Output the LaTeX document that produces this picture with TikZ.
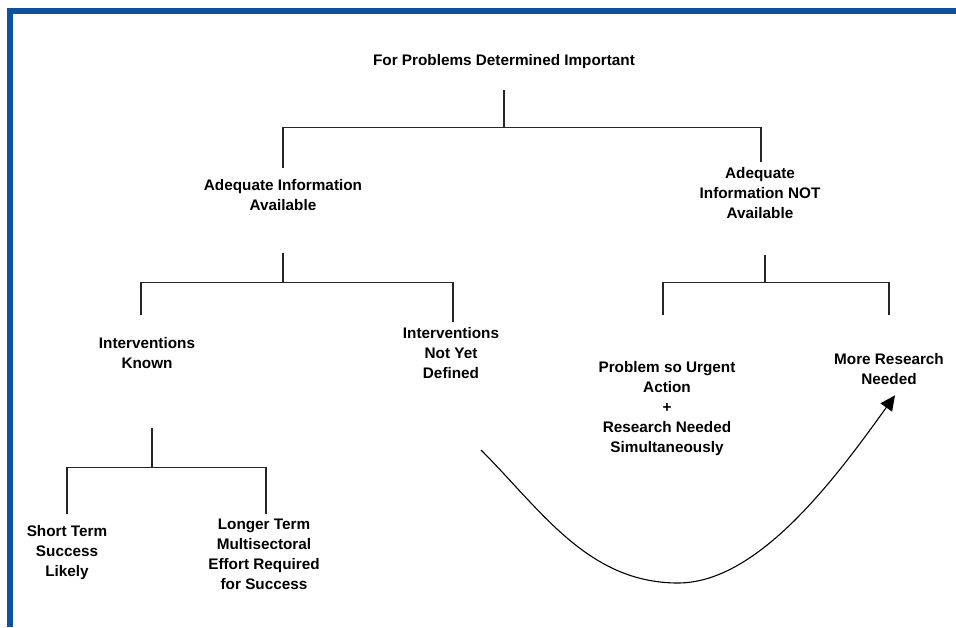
\documentclass[tikz,border=0pt]{standalone}
\usepackage{fontspec}
\setmainfont{Liberation Sans}
\usetikzlibrary{arrows.meta}
\definecolor{frameblue}{RGB}{12,82,160}

\begin{document}
\begin{tikzpicture}[x=1pt,y=1pt,
  lbl/.style={align=center,inner sep=0pt,font=\bfseries\fontsize{15.3}{20}\selectfont},
  conn/.style={draw=black!85,line width=1.1pt},
  arc/.style={draw=black,line width=1.1pt,-{Triangle[length=15pt,width=14pt]}}]
\useasboundingbox (0,0) rectangle (956,627);
% blue frame, top and left only
\fill [frameblue] (7,613) rectangle (956,619);
\fill [frameblue] (7,0) rectangle (13,619);

\node [lbl] (top) at (504,565.4) {For Problems Determined Important};
\node [lbl] (adeq) at (283,432) {Adequate Information\\Available};
\node [lbl] (notadeq) at (760,433.5) {Adequate\\Information NOT\\Available};
\node [lbl] (known) at (147,274) {Interventions\\Known};
\node [lbl] (undef) at (451,274) {Interventions\\Not Yet\\Defined};
\node [lbl] (urgent) at (667,218.4) {Problem so Urgent\\Action\\+\\Research Needed\\Simultaneously};
\node [lbl] (research) at (889,258) {More Research\\Needed};
\node [lbl] (short) at (67,74.4) {Short Term\\Success\\Likely};
\node [lbl] (longer) at (264,73) {Longer Term\\Multisectoral\\Effort Required\\for Success};

% brackets
\draw [conn] ([yshift=-21pt]top.south) -- ++(0,-38) -| ([xshift=1pt,yshift=5.5pt]notadeq.north);
\draw [conn] ([yshift=-59pt]top.south) -| ([yshift=11.5pt]adeq.north);
\draw [conn] ([yshift=-42.5pt]adeq.south) -- ++(0,-29) -| ([xshift=2pt,yshift=5.5pt]undef.north);
\draw [conn] ([yshift=-71.5pt]adeq.south) -| ([xshift=-6pt,yshift=22.5pt]known.north);
\draw [conn] ([xshift=5pt,yshift=-35.5pt]notadeq.south) -- ++(0,-28) -| ([yshift=38.5pt]research.north);
\draw [conn] ([xshift=5pt,yshift=-63.5pt]notadeq.south) -| ([xshift=-4pt,yshift=46.5pt]urgent.north);
\draw [conn] ([xshift=5pt,yshift=-59.5pt]known.south) -- ++(0,-39) -| ([xshift=2pt,yshift=4.5pt]longer.north);
\draw [conn] ([xshift=5pt,yshift=-98.5pt]known.south) -| ([yshift=11.5pt]short.north);

% curved arrow
\coordinate (arcstart) at (481,177);
\coordinate (arcend) at ([xshift=6pt,yshift=-10.5pt]research.south);
\draw [arc] (arcstart) .. controls (541,117) and (588,44) .. (678,44)
  .. controls (758,44) and (835,148) .. (arcend);
\end{tikzpicture}
\end{document}
